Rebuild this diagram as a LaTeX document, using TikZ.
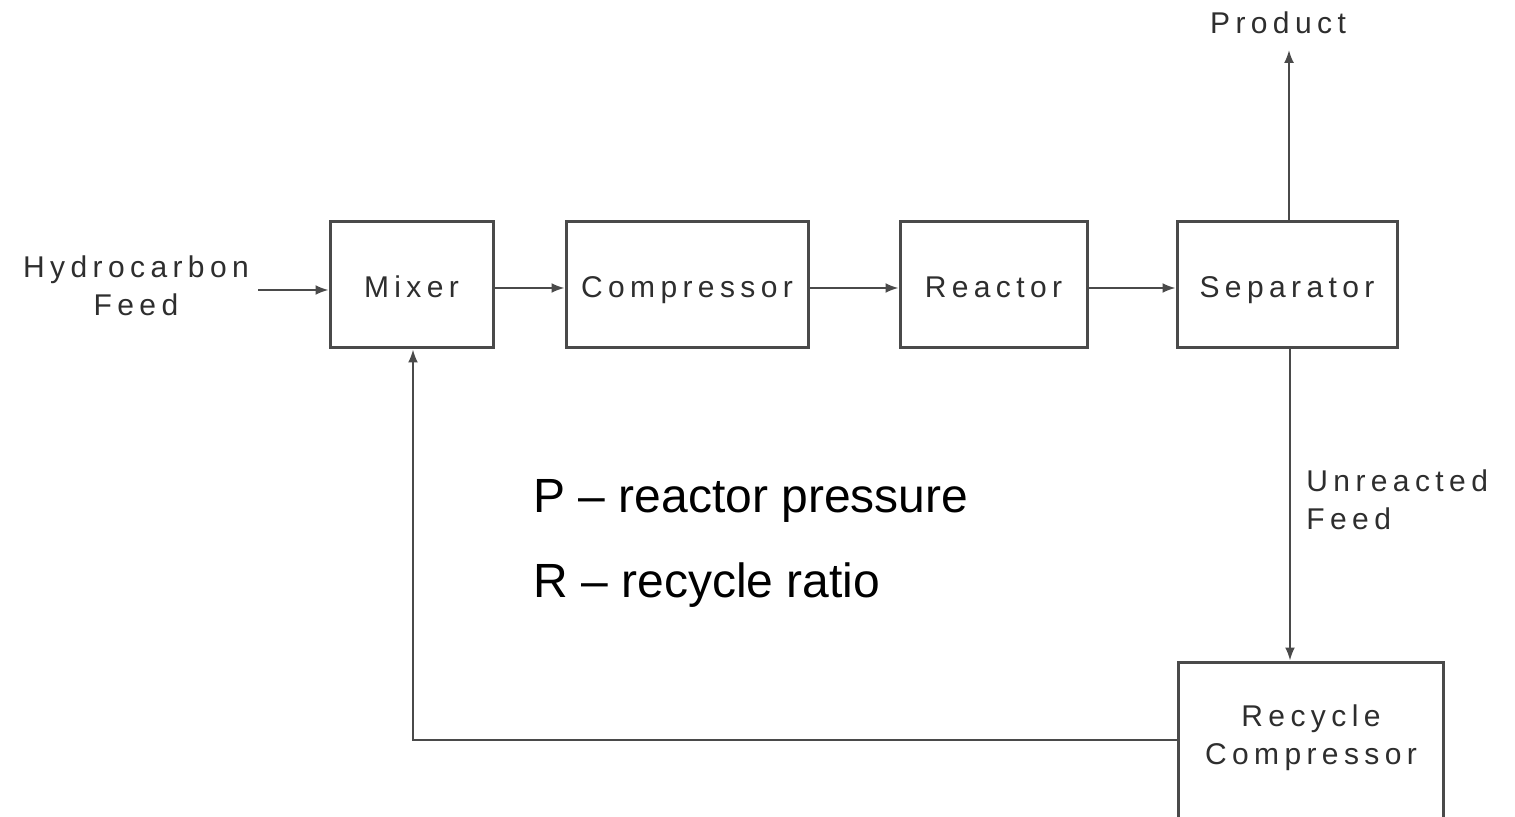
\documentclass[tikz,border=0pt]{standalone}
\usepackage{fontspec}
\setmainfont{Liberation Sans}
\newfontfamily\labfont[LetterSpace=18]{Liberation Sans}
\usetikzlibrary{arrows.meta}
\definecolor{linegray}{HTML}{4A4A4A}
\definecolor{textgray}{HTML}{2E2E2E}
\begin{document}
\begin{tikzpicture}[x=0.5pt,y=-0.5pt,
  box/.style={draw=linegray, line width=1.5pt, inner sep=0pt, text height=13pt, text depth=0pt, font=\labfont\fontsize{15}{19}\selectfont, text=textgray},
  lab/.style={font=\labfont\fontsize{15}{19}\selectfont, text=textgray, inner sep=0pt, align=center},
  flow/.style={draw=linegray, line width=1pt, -{Latex[length=6.5pt,width=5pt]}},
  note/.style={font=\fontsize{24}{28}\selectfont, text=black, inner sep=0pt}]
\useasboundingbox (0,0) rectangle (1515,817);
\clip (0,0) rectangle (1515,817);
\fill[white] (0,0) rectangle (1515,817);
\node[box, minimum width=81.5pt, minimum height=63pt] (mixer) at (411.5,285) {Mixer};
\node[box, minimum width=121pt, minimum height=63pt] (comp) at (687,285) {Compressor};
\node[box, minimum width=93.5pt, minimum height=63pt] (reac) at (993.5,285) {Reactor};
\node[box, minimum width=110pt, minimum height=63pt] (sep) at (1287,285) {Separator};
\node[box, minimum width=132.5pt, minimum height=99pt] (rc) at (1310.5,761) {};
\node[lab] (rctext) at (1311,738) {Recycle\\Compressor};
\node[lab] (feed) at (136,286) {Hydrocarbon\\Feed};
\node[lab] (prod) at (1278,23) {Product};
\node[lab, align=left, anchor=west] (unr) at (1306,500) {Unreacted\\ Feed};
\node[note, anchor=base west] (p) at (533,513) {P -- reactor pressure};
\node[note, anchor=base west] (r) at (533,597) {R -- recycle ratio};
\coordinate (feedend) at (258,290);
\coordinate (prodtip) at (1289,50);
\draw[flow] (feedend) -- (mixer.west |- feedend);
\draw[flow] (mixer.east |- 0,288) -- (comp.west |- 0,288);
\draw[flow] (comp.east |- 0,288) -- (reac.west |- 0,288);
\draw[flow] (reac.east |- 0,288) -- (sep.west |- 0,288);
\draw[flow] (sep.north -| prodtip) -- (prodtip);
\draw[flow] (sep.south -| 1290,0) -- (rc.north -| 1290,0);
\draw[flow] (rc.west |- 0,740) -| (mixer.south -| 413,0);
\end{tikzpicture}
\end{document}
